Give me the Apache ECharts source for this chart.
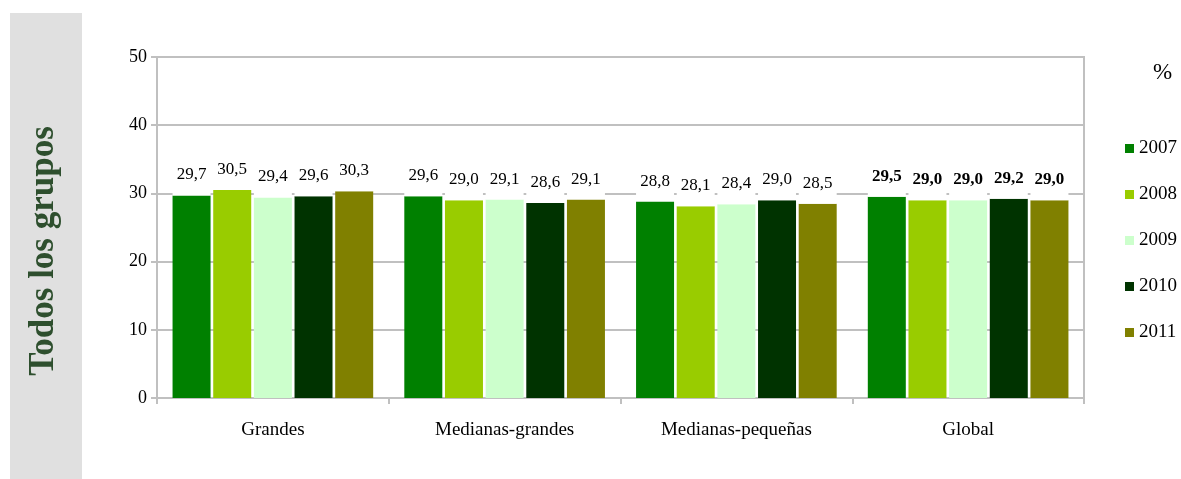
<!DOCTYPE html>
<html>
<head>
<meta charset="utf-8">
<script src="https://cdn.jsdelivr.net/npm/echarts@6/dist/echarts.min.js"></script>
<style>html,body{margin:0;padding:0;background:#fff}#c{width:1181px;height:479px}</style>
</head>
<body>
<div id="c"></div>
<script>
const categories = ['Grandes', 'Medianas-grandes', 'Medianas-pequeñas', 'Global'];
const years = ['2007', '2008', '2009', '2010', '2011'];
const v2007 = [29.7, 29.6, 28.8, 29.5];
const v2008 = [30.5, 29.0, 28.1, 29.0];
const v2009 = [29.4, 29.1, 28.4, 29.0];
const v2010 = [29.6, 28.6, 29.0, 29.2];
const v2011 = [30.3, 29.1, 28.5, 29.0];
const yTicks = [0, 10, 20, 30, 40, 50];
const colors = ['#008000', '#99cc00', '#ccffcc', '#003300', '#808000'];
const boldIndex = 3;

const FONT = '"Liberation Serif", "DejaVu Serif", serif';
const allVals = [v2007, v2008, v2009, v2010, v2011];

const series = years.map((y, i) => ({
  name: y,
  type: 'bar',
  barWidth: 38,
  barGap: '7%',
  itemStyle: { color: colors[i] },
  label: {
    show: true,
    position: 'top',
    distance: 0,
    color: '#000',
    fontFamily: FONT,
    fontSize: 17,
    backgroundColor: '#fff',
    width: 38,
    align: 'center',
    padding: [2, 0, 12, 0],
    formatter: p => p.value.toFixed(1).replace('.', ',')
  },
  data: allVals[i].map((v, j) => j === boldIndex
    ? { value: v, label: { fontWeight: 'bold' } }
    : v)
}));

const chart = echarts.init(document.getElementById('c'), null, { renderer: 'canvas' });
chart.setOption({
  animation: false,
  color: colors,
  textStyle: { fontFamily: FONT },
  grid: {
    left: 157, right: 97, top: 57, bottom: 81,
    show: true, borderColor: '#c0c0c0', borderWidth: 2, backgroundColor: 'transparent'
  },
  title: {
    text: '%', left: 1148, top: 56,
    textStyle: { fontFamily: FONT, fontSize: 23, fontWeight: 'normal', color: '#000' }
  },
  legend: {
    orient: 'vertical', left: 1120, top: 134,
    icon: 'rect', itemWidth: 9, itemHeight: 9, itemGap: 27,
    textStyle: { fontFamily: FONT, fontSize: 19, color: '#000' },
    data: years
  },
  xAxis: {
    type: 'category',
    data: categories,
    axisLine: { lineStyle: { color: '#c0c0c0', width: 2 } },
    axisTick: { show: true, length: 6, lineStyle: { color: '#c0c0c0', width: 2 } },
    axisLabel: { color: '#000', fontFamily: FONT, fontSize: 19, margin: 23 }
  },
  yAxis: {
    type: 'value', min: yTicks[0], max: yTicks[yTicks.length - 1], interval: 10,
    axisLine: { show: true, lineStyle: { color: '#c0c0c0', width: 2 } },
    axisTick: { show: true, length: 6, lineStyle: { color: '#c0c0c0', width: 2 } },
    splitLine: { lineStyle: { color: '#c0c0c0', width: 2 } },
    axisLabel: { color: '#000', fontFamily: FONT, fontSize: 18, margin: 10 }
  },
  graphic: [
    { type: 'rect', left: 10, top: 13, shape: { width: 72, height: 466 }, style: { fill: '#e0e0e0' }, z: -10 },
    {
      type: 'text', x: 44, y: 251, rotation: Math.PI / 2,
      style: {
        text: 'Todos los grupos', fill: '#2e4f2e', font: 'bold 35px "Liberation Serif", serif',
        textAlign: 'center', textVerticalAlign: 'middle'
      }
    }
  ],
  series: series
});
</script>
</body>
</html>
